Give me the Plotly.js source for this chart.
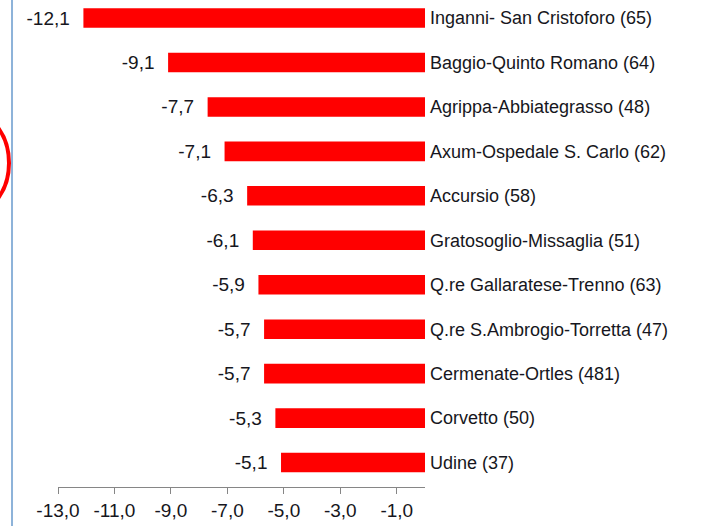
<!DOCTYPE html>
<html>
<head>
<meta charset="utf-8">
<script src="https://cdn.plot.ly/plotly-3.0.1.min.js"></script>
<style>html,body{margin:0;padding:0;background:#fff;}#chart{width:713px;height:526px;}</style>
</head>
<body>
<div id="chart"></div>
<script>
var categories = [
  "Inganni- San Cristoforo (65)",
  "Baggio-Quinto Romano (64)",
  "Agrippa-Abbiategrasso (48)",
  "Axum-Ospedale S. Carlo (62)",
  "Accursio (58)",
  "Gratosoglio-Missaglia (51)",
  "Q.re Gallaratese-Trenno (63)",
  "Q.re S.Ambrogio-Torretta (47)",
  "Cermenate-Ortles (481)",
  "Corvetto (50)",
  "Udine (37)"
];
var values = [-12.1, -9.1, -7.7, -7.1, -6.3, -6.1, -5.9, -5.7, -5.7, -5.3, -5.1];
var xTickVals = [-13, -11, -9, -7, -5, -3, -1];
var xTickText = ["-13,0", "-11,0", "-9,0", "-7,0", "-5,0", "-3,0", "-1,0"];

function fmt(v){ return v.toFixed(1).replace(".", ","); }

var FONT = "Liberation Sans, Arial, sans-serif";
var TXT = "#161620";

var trace = {
  type: "bar",
  orientation: "h",
  y: categories,
  x: values,
  marker: {color: "#ff0000"},
  width: 0.44,
  text: values.map(function(v){ return fmt(v) + "\u00a0\u00a0"; }),
  textposition: "outside",
  constraintext: "none",
  cliponaxis: false,
  textfont: {family: FONT, size: 19, color: TXT},
  hoverinfo: "none"
};

var layout = {
  width: 713,
  height: 526,
  margin: {l: 58, r: 288, t: 0, b: 39},
  paper_bgcolor: "#ffffff",
  plot_bgcolor: "#ffffff",
  showlegend: false,
  font: {family: FONT, size: 18, color: TXT},
  xaxis: {
    range: [-13, 0],
    tickvals: xTickVals,
    ticktext: xTickText,
    showgrid: false,
    zeroline: false,
    showline: true,
    linecolor: "#868686",
    linewidth: 1,
    ticks: "outside",
    ticklen: 6,
    tickcolor: "#868686",
    tickfont: {family: FONT, size: 19, color: TXT},
    fixedrange: true
  },
  yaxis: {
    type: "category",
    categoryorder: "array",
    categoryarray: categories,
    range: [10.55, -0.405],
    side: "right",
    showgrid: false,
    zeroline: false,
    showline: false,
    ticks: "",
    ticklabelstandoff: 4,
    tickfont: {family: FONT, size: 18, color: TXT},
    fixedrange: true
  },
  shapes: [
    {type: "line", xref: "paper", yref: "paper",
     x0: -0.1253, x1: -0.1253, y0: -0.09, y1: 1.01,
     line: {color: "#8db3d9", width: 2}},
    {type: "circle", xref: "paper", yref: "paper",
     x0: -0.3188, x1: -0.1335, y0: 0.5667, y1: 0.7639,
     line: {color: "#ff0000", width: 4}}
  ]
};

Plotly.newPlot("chart", [trace], layout, {displayModeBar: false, staticPlot: true});
</script>
</body>
</html>
